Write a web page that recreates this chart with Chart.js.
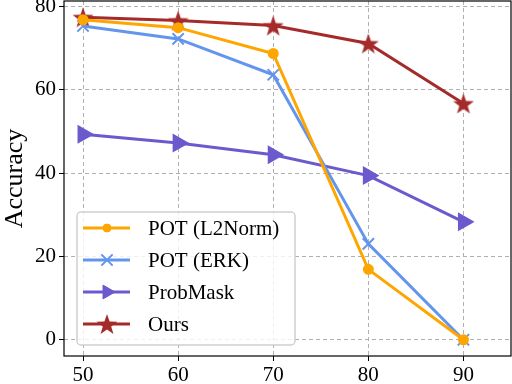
<!DOCTYPE html>
<html>
<head>
<meta charset="utf-8">
<script src="https://cdn.jsdelivr.net/npm/chart.js@4"></script>
<style>
  html, body { margin: 0; padding: 0; background: #fff; }
  #wrap { width: 512px; height: 384px; }
</style>
</head>
<body>
<div id="wrap"><canvas id="chart" width="512" height="384"></canvas></div>
<script>
(function () {
    'use strict';

    // --- data ---
    var sparsity   = [50, 60, 70, 80, 90];
    var xTicks     = [50, 60, 70, 80, 90];
    var yTicks     = [0, 20, 40, 60, 80];
    var potL2      = [76.8, 74.9, 68.7, 16.9, 0.0];
    var potErk     = [75.3, 72.2, 63.6, 23.0, 0.0];
    var probMask   = [49.3, 47.2, 44.4, 39.4, 28.3];
    var ours       = [77.4, 76.6, 75.4, 71.1, 56.7];

    var FONT = '"Liberation Serif", "Times New Roman", serif';

    // filled five-point star used as a point style
    function makeStar(r, colour) {
        var c = document.createElement('canvas');
        var s = Math.ceil(r * 2 + 2);
        c.width = s; c.height = s;
        var g = c.getContext('2d');
        g.translate(s / 2, s / 2 + r * 0.1);
        g.beginPath();
        for (var i = 0; i < 10; i++) {
            var rad = (i % 2 === 0) ? r : r * 0.4;
            var a = -Math.PI / 2 + i * Math.PI / 5;
            g.lineTo(rad * Math.cos(a), rad * Math.sin(a));
        }
        g.closePath();
        g.fillStyle = colour;
        g.fill();
        return c;
    }

    var orange = '#ffa500';
    var blue   = '#6495ed';
    var purple = '#6a5acd';
    var red    = '#a52a2a';
    var star   = makeStar(11, red);

    function pts(arr) {
        return arr.map(function (v, i) { return { x: sparsity[i], y: v }; });
    }

    var datasets = [
        { label: 'POT (L2Norm)', data: pts(potL2), borderColor: orange, backgroundColor: orange,
          pointStyle: 'circle', pointRadius: 4, borderWidth: 3 },
        { label: 'POT (ERK)', data: pts(potErk), borderColor: blue, backgroundColor: blue,
          pointStyle: 'crossRot', pointRadius: 8, pointBorderWidth: 2, borderWidth: 3 },
        { label: 'ProbMask', data: pts(probMask), borderColor: purple, backgroundColor: purple,
          pointStyle: 'triangle', pointRotation: 90, pointRadius: 8, borderWidth: 3 },
        { label: 'Ours', data: pts(ours), borderColor: red, backgroundColor: red,
          pointStyle: star, borderWidth: 3 }
    ];
    datasets.forEach(function (d) { d.tension = 0; d.fill = false; d.clip = false; });

    // box around the plot + legend in lower left
    var framePlugin = {
        id: 'frame',
        afterDatasetsDraw: function (chart) {
            var ctx = chart.ctx, a = chart.chartArea;
            ctx.save();
            ctx.strokeStyle = '#000';
            ctx.lineWidth = 1.2;
            ctx.strokeRect(a.left, a.top, a.right - a.left, a.bottom - a.top);

            // legend
            var bx = 77, by = 212, bw = 218, bh = 133;
            ctx.beginPath();
            ctx.roundRect(bx, by, bw, bh, 4);
            ctx.fillStyle = 'rgba(255,255,255,0.8)';
            ctx.fill();
            ctx.strokeStyle = '#d0d0d0';
            ctx.lineWidth = 1.5;
            ctx.stroke();

            ctx.font = '21px ' + FONT;
            ctx.textBaseline = 'middle';
            var rows = [228, 260, 292, 324];
            chart.data.datasets.forEach(function (d, i) {
                var y = rows[i];
                ctx.strokeStyle = d.borderColor;
                ctx.lineWidth = 3;
                ctx.beginPath();
                ctx.moveTo(83, y); ctx.lineTo(130, y);
                ctx.stroke();
                ctx.fillStyle = d.backgroundColor;
                ctx.strokeStyle = d.borderColor;
                ctx.lineWidth = d.pointBorderWidth || 1;
                Chart.helpers.drawPoint(ctx, {
                    pointStyle: d.pointStyle,
                    radius: d.pointRadius || 8,
                    rotation: d.pointRotation || 0,
                    borderWidth: d.pointBorderWidth || 1
                }, 107, y);
                ctx.fillStyle = '#000';
                ctx.fillText(d.label, 148, y + 1);
            });
            ctx.restore();
        }
    };

    var gridOpts = { color: '#b0b0b0', tickColor: '#000', tickLength: 5, lineWidth: 1 };

    new Chart(document.getElementById('chart'), {
        type: 'line',
        data: { datasets: datasets },
        options: {
            responsive: false,
            animation: false,
            events: [],
            layout: { autoPadding: false, padding: { top: 1, right: 1, left: 0, bottom: 0 } },
            plugins: { legend: { display: false }, tooltip: { enabled: false } },
            scales: {
                x: {
                    type: 'linear',
                    min: 48, max: 95,
                    afterBuildTicks: function (s) { s.ticks = xTicks.map(function (v) { return { value: v }; }); },
                    afterFit: function (s) { s.height = 28; s.paddingLeft = 0; s.paddingRight = 0; },
                    ticks: { color: '#000', font: { family: FONT, size: 21 }, padding: 2 },
                    grid: gridOpts,
                    border: { display: false, dash: [4, 3] }
                },
                y: {
                    min: -3.9, max: 81.3,
                    afterBuildTicks: function (s) { s.ticks = yTicks.map(function (v) { return { value: v }; }); },
                    afterFit: function (s) { s.width = 64; s.paddingTop = 0; s.paddingBottom = 0; },
                    ticks: { color: '#000', font: { family: FONT, size: 21 }, padding: 3 },
                    grid: gridOpts,
                    border: { display: false, dash: [4, 3] },
                    title: { display: true, text: 'Accuracy', color: '#000',
                             font: { family: FONT, size: 26 }, padding: 0 }
                }
            }
        },
        plugins: [framePlugin]
    });
})();
</script>
</body>
</html>
